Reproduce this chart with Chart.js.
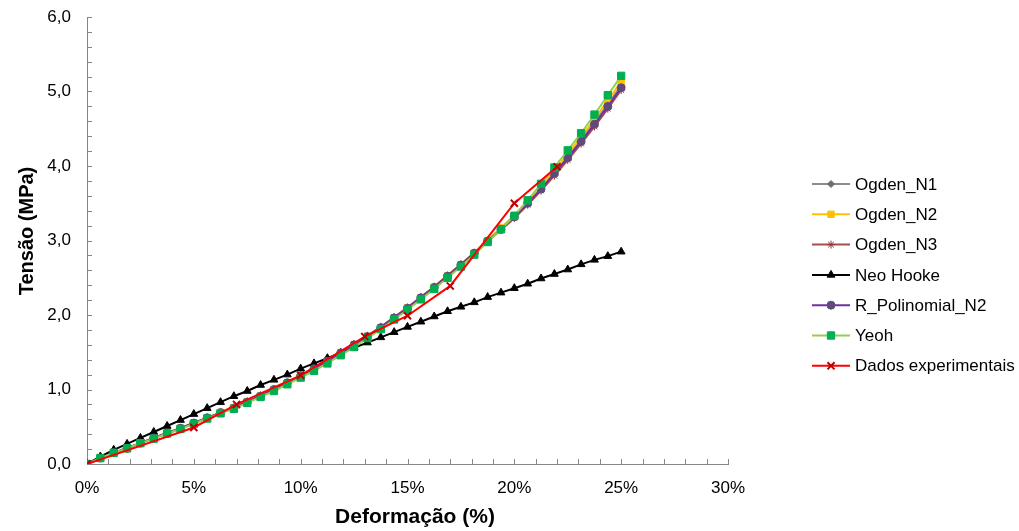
<!DOCTYPE html>
<html>
<head>
<meta charset="utf-8">
<script src="https://cdn.jsdelivr.net/npm/chart.js@4.4.1/dist/chart.umd.min.js"></script>
<style>
  html, body { margin: 0; padding: 0; background: #ffffff; }
  #wrap { position: relative; width: 1019px; height: 531px; }
</style>
</head>
<body>
<div id="wrap"><canvas id="c" width="1019" height="531"></canvas></div>
<script>
// ---------- data ----------
const strain = [0,0.625,1.25,1.875,2.5,3.125,3.75,4.375,5,5.625,6.25,6.875,7.5,8.125,8.75,9.375,10,10.625,11.25,11.875,12.5,13.125,13.75,14.375,15,15.625,16.25,16.875,17.5,18.125,18.75,19.375,20,20.625,21.25,21.875,22.5,23.125,23.75,24.375,25];

const ogdenN1 = [0,0.08,0.15,0.21,0.28,0.35,0.41,0.48,0.55,0.62,0.69,0.75,0.83,0.91,1.00,1.09,1.18,1.28,1.38,1.49,1.60,1.72,1.84,1.97,2.10,2.24,2.38,2.53,2.68,2.84,3.00,3.16,3.33,3.51,3.71,3.92,4.13,4.35,4.59,4.83,5.08];
const ogdenN2 = [0,0.08,0.15,0.21,0.28,0.35,0.41,0.48,0.55,0.62,0.69,0.75,0.83,0.91,0.99,1.08,1.17,1.27,1.37,1.48,1.59,1.71,1.83,1.96,2.09,2.23,2.37,2.52,2.67,2.83,3.00,3.17,3.34,3.53,3.73,3.94,4.16,4.39,4.63,4.88,5.13];
const ogdenN3 = [0,0.08,0.15,0.22,0.28,0.35,0.42,0.48,0.55,0.62,0.69,0.76,0.84,0.92,1.00,1.09,1.19,1.29,1.39,1.50,1.61,1.72,1.84,1.97,2.10,2.24,2.38,2.53,2.68,2.83,2.99,3.14,3.30,3.48,3.67,3.87,4.08,4.30,4.53,4.77,5.02];
const neoHooke = [0,0.10,0.19,0.27,0.35,0.43,0.51,0.59,0.67,0.75,0.83,0.91,0.98,1.06,1.13,1.20,1.28,1.35,1.42,1.49,1.56,1.63,1.70,1.77,1.84,1.91,1.98,2.05,2.11,2.17,2.24,2.30,2.36,2.42,2.49,2.55,2.61,2.68,2.74,2.79,2.85];
const rPolinomialN2 = [0,0.08,0.15,0.21,0.28,0.35,0.41,0.48,0.55,0.62,0.69,0.75,0.83,0.91,1.00,1.09,1.18,1.28,1.38,1.49,1.60,1.71,1.83,1.96,2.09,2.23,2.37,2.52,2.67,2.83,2.99,3.15,3.32,3.50,3.69,3.90,4.11,4.33,4.56,4.80,5.05];
const yeoh = [0,0.08,0.15,0.21,0.28,0.34,0.41,0.47,0.54,0.61,0.68,0.74,0.82,0.90,0.98,1.07,1.16,1.25,1.35,1.46,1.57,1.69,1.81,1.94,2.07,2.21,2.35,2.50,2.65,2.81,2.98,3.15,3.33,3.54,3.76,3.98,4.21,4.44,4.69,4.95,5.21];

const expStrain = [0,5,7,10,13,15,17,20,22];
const expStress = [0,0.49,0.80,1.19,1.71,1.99,2.39,3.50,3.99];

const seriesNames = ['Ogden_N1','Ogden_N2','Ogden_N3','Neo Hooke','R_Polinomial_N2','Yeoh','Dados experimentais'];
const xTickValues = [0,5,10,15,20,25,30];
const xTickLabels = ['0%','5%','10%','15%','20%','25%','30%'];
const yTickValues = [0,1,2,3,4,5,6];
const yTickLabels = ['0,0','1,0','2,0','3,0','4,0','5,0','6,0'];
const xTitle = 'Deformação (%)';
const yTitle = 'Tensão (MPa)';

// ---------- helpers ----------
const pts = (xs, ys) => xs.map((x, i) => ({x: x, y: ys[i]}));
const FONT = "'Liberation Sans', Arial, sans-serif";

function labelFor(values, labels, v) {
  for (let i = 0; i < values.length; i++) {
    if (Math.abs(values[i] - v) < 1e-6) return labels[i];
  }
  return '';
}

const insideTicks = {
  id: 'insideTicks',
  beforeDatasetsDraw(chart) {
    const ctx = chart.ctx;
    const xs = chart.scales.x, ys = chart.scales.y;
    const a = chart.chartArea;
    ctx.save();
    ctx.strokeStyle = '#868686';
    ctx.lineWidth = 1;
    ctx.beginPath();
    xs.ticks.forEach(t => {
      const px = Math.round(xs.getPixelForValue(t.value)) + 0.5;
      ctx.moveTo(px, a.bottom);
      ctx.lineTo(px, a.bottom - 5);
    });
    ys.ticks.forEach(t => {
      const py = Math.round(ys.getPixelForValue(t.value)) + 0.5;
      ctx.moveTo(a.left, py);
      ctx.lineTo(a.left + 5, py);
    });
    ctx.stroke();
    ctx.restore();
  }
};

const axisTitles = {
  id: 'axisTitles',
  afterDraw(chart) {
    const ctx = chart.ctx;
    ctx.save();
    ctx.fillStyle = '#000000';
    ctx.textAlign = 'center';
    ctx.textBaseline = 'middle';
    ctx.font = 'bold 21px ' + FONT;
    ctx.fillText(xTitle, 415, 517);
    ctx.font = 'bold 20px ' + FONT;
    ctx.translate(27, 231);
    ctx.rotate(-Math.PI / 2);
    ctx.fillText(yTitle, 0, 0);
    ctx.restore();
  }
};

function drawMarker(ctx, ds, x, y) {
  const opts = {
    pointStyle: ds.pointStyle,
    radius: ds.pointRadius,
    rotation: 0,
    borderWidth: ds.pointBorderWidth
  };
  ctx.save();
  ctx.fillStyle = ds.pointBackgroundColor;
  ctx.strokeStyle = ds.pointBorderColor;
  ctx.lineWidth = ds.pointBorderWidth;
  if (Chart.helpers && Chart.helpers.drawPoint) {
    Chart.helpers.drawPoint(ctx, opts, x, y);
  } else {
    ctx.beginPath();
    ctx.arc(x, y, ds.pointRadius, 0, Math.PI * 2);
    ctx.fill();
    ctx.stroke();
  }
  ctx.restore();
}

const sideLegend = {
  id: 'sideLegend',
  afterDraw(chart) {
    const ctx = chart.ctx;
    const lx0 = 812, lx1 = 850, tx = 855, y0 = 184, dy = 30.3;
    chart.data.datasets.forEach((ds, i) => {
      const y = y0 + i * dy;
      ctx.save();
      ctx.strokeStyle = ds.borderColor;
      ctx.lineWidth = ds.borderWidth;
      ctx.beginPath();
      ctx.moveTo(lx0, y);
      ctx.lineTo(lx1, y);
      ctx.stroke();
      ctx.restore();
      drawMarker(ctx, ds, (lx0 + lx1) / 2, y);
      ctx.save();
      ctx.fillStyle = '#000000';
      ctx.font = '17px ' + FONT;
      ctx.textBaseline = 'middle';
      ctx.textAlign = 'left';
      ctx.fillText(ds.label, tx, y + 1);
      ctx.restore();
    });
  }
};

function series(name, data, line, marker, style, radius, order, bw, pbw) {
  return {
    label: name,
    data: data,
    borderColor: line,
    backgroundColor: marker,
    borderWidth: bw,
    pointStyle: style,
    pointRadius: radius,
    pointHoverRadius: radius,
    pointBackgroundColor: marker,
    pointBorderColor: marker,
    pointBorderWidth: pbw,
    tension: 0,
    fill: false,
    order: order
  };
}

const datasets = [
  series(seriesNames[0], pts(strain, ogdenN1), '#8c8c8c', '#6e6e6e', 'rectRot', 3.5, 6, 2, 1),
  series(seriesNames[1], pts(strain, ogdenN2), '#FFC000', '#FFC000', 'rect', 4.5, 5, 2, 1),
  series(seriesNames[2], pts(strain, ogdenN3), '#a0504e', '#953735', 'star', 4, 4, 2, 1),
  series(seriesNames[3], pts(strain, neoHooke), '#000000', '#000000', 'triangle', 4.5, 3, 2, 1),
  series(seriesNames[4], pts(strain, rPolinomialN2), '#7030A0', '#604A7B', 'circle', 4, 2, 2, 1),
  series(seriesNames[5], pts(strain, yeoh), '#92D050', '#00B050', 'rect', 5.2, 1, 2, 1),
  series(seriesNames[6], pts(expStrain, expStress), '#FF0000', '#C00000', 'crossRot', 5, 0, 2, 2)
];

Chart.defaults.font.family = FONT;
Chart.defaults.color = '#000000';

new Chart(document.getElementById('c'), {
  type: 'line',
  data: { datasets: datasets },
  plugins: [insideTicks, sideLegend, axisTitles],
  options: {
    responsive: false,
    animation: false,
    events: [],
    layout: { padding: { top: 17, right: 291, left: 0, bottom: 0 } },
    plugins: { legend: { display: false }, tooltip: { enabled: false } },
    scales: {
      x: {
        type: 'linear',
        min: 0, max: 30,
        afterFit: s => { s.height = 67; },
        border: { display: true, color: '#868686', width: 1 },
        grid: { display: true, drawOnChartArea: false, drawTicks: true, tickLength: 14, tickColor: 'rgba(0,0,0,0)', color: 'rgba(0,0,0,0)' },
        ticks: {
          stepSize: 1, maxTicksLimit: 100, autoSkip: false, maxRotation: 0, minRotation: 0,
          padding: 0,
          font: { size: 17 },
          color: '#000000',
          callback: v => labelFor(xTickValues, xTickLabels, v)
        },
        title: { display: false }
      },
      y: {
        type: 'linear',
        min: 0, max: 6,
        afterFit: s => { s.width = 87; },
        border: { display: true, color: '#868686', width: 1 },
        grid: { display: true, drawOnChartArea: false, drawTicks: true, tickLength: 16, tickColor: 'rgba(0,0,0,0)', color: 'rgba(0,0,0,0)' },
        ticks: {
          stepSize: 0.2, maxTicksLimit: 100, autoSkip: false,
          padding: 0,
          font: { size: 17 },
          color: '#000000',
          callback: v => labelFor(yTickValues, yTickLabels, v)
        },
        title: { display: false }
      }
    }
  }
});
</script>
</body>
</html>
